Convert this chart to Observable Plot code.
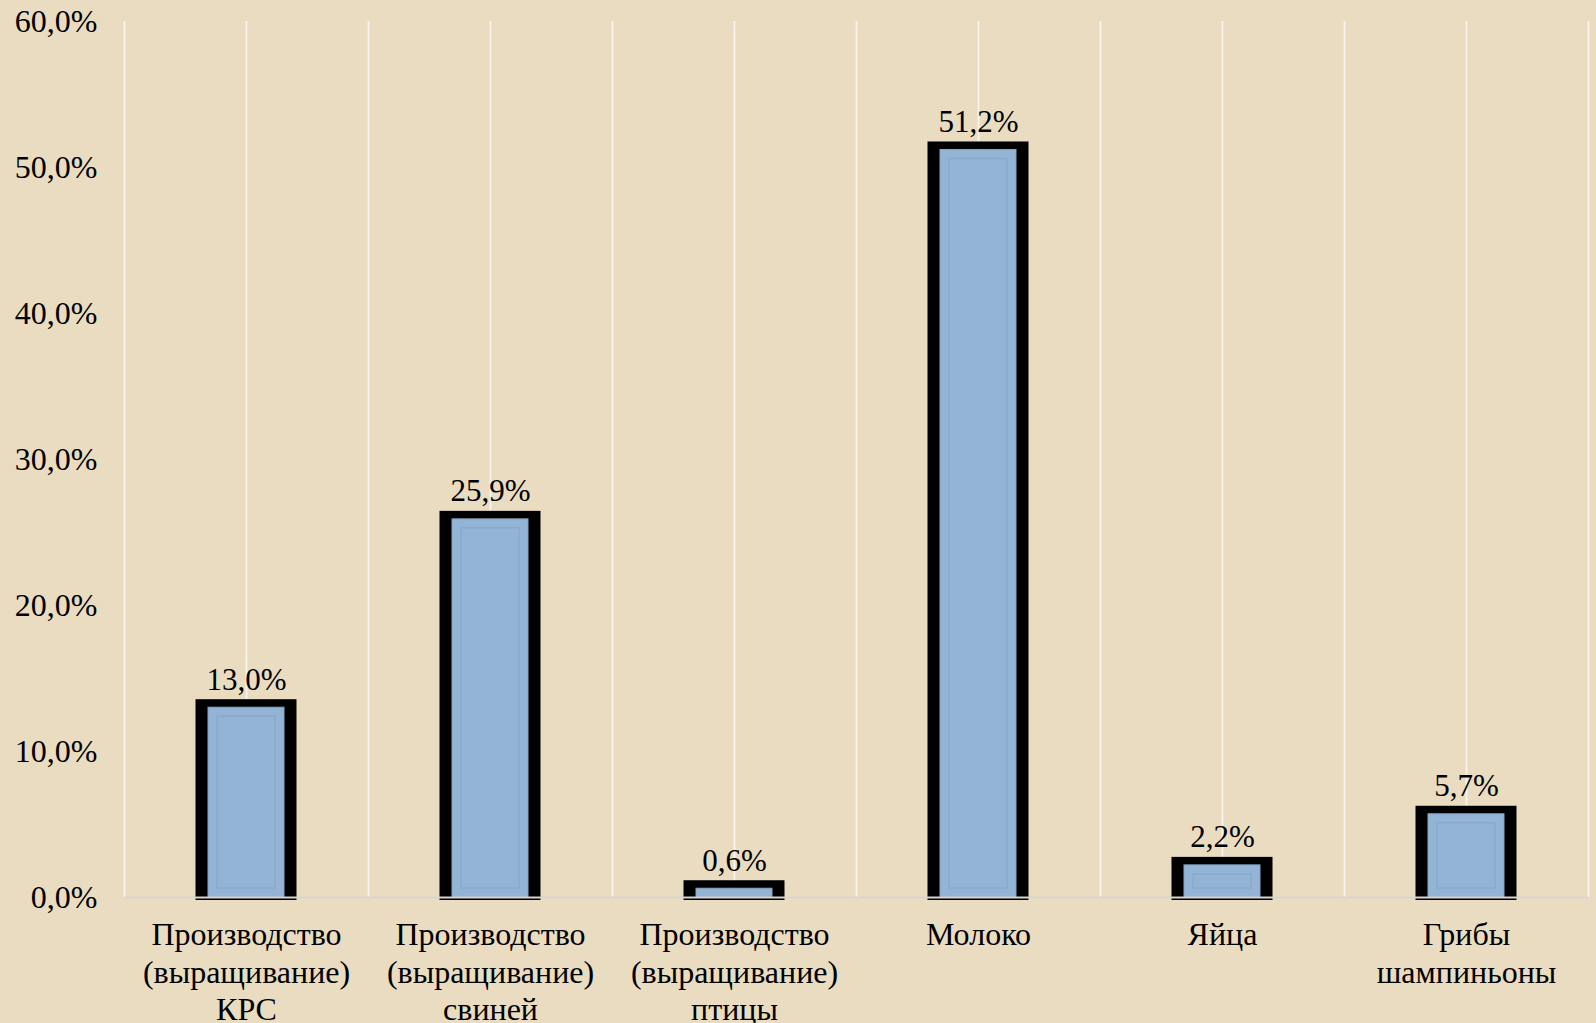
<!DOCTYPE html>
<html>
<head>
<meta charset="utf-8">
<script src="https://cdn.jsdelivr.net/npm/d3@7"></script>
<script src="https://cdn.jsdelivr.net/npm/@observablehq/plot@0.6"></script>
<style>
  html, body { margin: 0; padding: 0; background: #EADCC1; }
  #chart { width: 1596px; height: 1023px; overflow: hidden; }
</style>
</head>
<body>
<div id="chart"></div>
<script>
// ---- data ----
const categories = ["КРС", "Свиньи", "Птица", "Молоко", "Яйца", "Грибы"];
const categoryLabels = [
  "Производство\n(выращивание)\nКРС",
  "Производство\n(выращивание)\nсвиней",
  "Производство\n(выращивание)\nптицы",
  "Молоко",
  "Яйца",
  "Грибы\nшампиньоны"
];
const values = [13.0, 25.9, 0.6, 51.2, 2.2, 5.7];
const yTicks = [0, 10, 20, 30, 40, 50, 60];

// ---- layout ----
const W = 1596, H = 1023;
const mL = 124, mR = 8, mT = 21, mB = 126;
const half = (W - mL - mR) / (2 * categories.length);
const font = "'Liberation Serif', 'Times New Roman', serif";

const data = categories.map((c, i) => ({cat: c, label: categoryLabels[i], value: values[i]}));
const fmt = v => v.toFixed(1).replace(".", ",") + "%";

const chart = Plot.plot({
  width: W,
  height: H,
  marginLeft: mL,
  marginRight: mR,
  marginTop: mT,
  marginBottom: mB,
  style: {background: "#EADCC1", fontFamily: font, color: "#000"},
  x: {domain: categories, paddingInner: 0.689, paddingOuter: 0.3445, axis: null},
  y: {domain: [0, 60], ticks: yTicks, tickFormat: fmt},
  marks: [
    // vertical gridlines at band boundaries and centres
    Plot.ruleX(categories, {x: d => d, y1: 0, y2: 60, dx: -half, stroke: "#f8f4ee", strokeWidth: 1.75}),
    Plot.ruleX(categories, {x: d => d, y1: 0, y2: 60, stroke: "#f8f4ee", strokeWidth: 1.75}),
    Plot.ruleX([categories[categories.length - 1]], {x: d => d, y1: 0, y2: 60, dx: half, stroke: "#f8f4ee", strokeWidth: 1.75}),
    // thick black frame
    Plot.barY(data, {x: "cat", y: "value", fill: "#000", insetLeft: -12.5, insetRight: -12.5, insetTop: -8, insetBottom: -3}),
    // blue fill
    Plot.barY(data, {x: "cat", y: "value", fill: "#93B4D4", stroke: "#84a5c4", strokeWidth: 1}),
    // subtle inner border
    Plot.barY(data.filter(d => d.value > 2), {x: "cat", y: "value", fill: "none", stroke: "#86a8c8", strokeWidth: 1.2, inset: 9}),
    // baseline
    Plot.ruleY([0], {stroke: "#d8d4ce", strokeWidth: 2}),
    // value labels
    Plot.text(data, {x: "cat", y: "value", text: d => fmt(d.value), dy: -18, lineAnchor: "bottom", fontSize: 31, fill: "#000", fontFamily: font}),
    // category labels
    Plot.text(data, {x: "cat", text: "label", frameAnchor: "bottom", lineAnchor: "top", lineHeight: 1.17, dy: 21, fontSize: 32, fill: "#000", fontFamily: font}),
    // y axis
    Plot.axisY({ticks: yTicks, tickFormat: fmt, tickSize: 0, tickPadding: 27, fontSize: 32, fill: "#000", fontFamily: font, label: null})
  ]
});

document.getElementById("chart").appendChild(chart);
</script>
</body>
</html>
